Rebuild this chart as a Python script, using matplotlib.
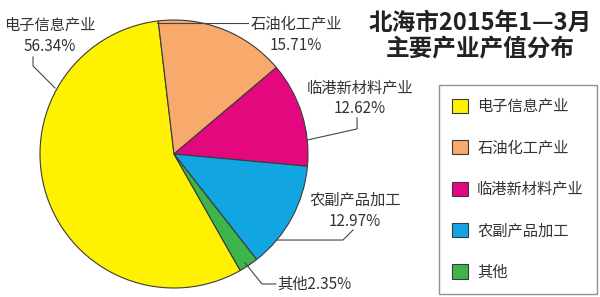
import matplotlib
matplotlib.use("Agg")
import matplotlib.pyplot as plt
import numpy as np

plt.rcParams['font.family'] = ['Noto Sans CJK SC', 'DejaVu Sans']

# data (legend order)
industries = ["电子信息产业", "石油化工产业", "临港新材料产业", "农副产品加工", "其他"]
shares = [56.34, 15.71, 12.62, 12.97, 2.35]
colors = ["#FFF200", "#F8A96C", "#E4087F", "#11A5E2", "#3DB54A"]

title_lines = ["北海市2015年1—3月", "主要产业产值分布"]

fig = plt.figure(figsize=(6.0, 2.97), dpi=100)
fig.patch.set_facecolor("white")

# pie axes: center ~ (174,154) px, radius ~134 px
ax = fig.add_axes([40 / 600, 9 / 297, 268 / 600, 268 / 297])
wedges, _ = ax.pie(shares, colors=colors, startangle=-60.4, counterclock=False,
                   radius=1.0,
                   wedgeprops=dict(edgecolor="#3a3a3a", linewidth=0.8))
ax.set_xlim(-1.0, 1.0)
ax.set_ylim(-1.0, 1.0)
ax.set_aspect("equal")
ax.axis("off")

txt_color = "#333333"
lab_fs = 11

# label layout: (name text pos, pct text pos, leader polyline)
layout = [
    ((-0.925, 0.963), (-0.925, 0.80), [(-1.052, 0.724), (-1.052, 0.657), (-0.888, 0.493)]),
    ((0.910, 0.968), (0.910, 0.811), [(-0.127, 0.978), (0.552, 0.978)]),
    ((1.388, 0.493), (1.388, 0.336), [(1.366, 0.269), (1.366, 0.187), (0.993, 0.104)]),
    ((1.351, -0.343), (1.351, -0.500), [(1.336, -0.567), (1.261, -0.642), (0.769, -0.642)]),
]
for i, (npos, ppos, line) in enumerate(layout):
    ax.text(npos[0], npos[1], industries[i], ha="center", va="center",
            fontsize=lab_fs, color=txt_color, clip_on=False)
    ax.text(ppos[0], ppos[1], f"{shares[i]:.2f}%", ha="center", va="center",
            fontsize=lab_fs, color=txt_color, clip_on=False)
    xs, ys = zip(*line)
    ax.plot(xs, ys, color="#444444", lw=0.8, clip_on=False)

# "other" label inline
ax.text(0.770, -0.970, f"{industries[4]}{shares[4]:.2f}%", ha="left", va="center",
        fontsize=lab_fs, color=txt_color, clip_on=False)
ax.plot([0.530, 0.657, 0.760], [-0.813, -0.970, -0.970], color="#444444", lw=0.8, clip_on=False)

# title
fig.text(480 / 600, 1 - 23 / 297, title_lines[0], ha="center", va="center",
         fontsize=17, fontweight="bold", color="#222222")
fig.text(480 / 600, 1 - 49 / 297, title_lines[1], ha="center", va="center",
         fontsize=17, fontweight="bold", color="#222222")

leg = fig.legend(wedges, industries, loc="upper left",
                 bbox_to_anchor=(439 / 600, 1 - 85 / 297),
                 fontsize=11, frameon=True, fancybox=False,
                 handlelength=1.05, handleheight=1.05, handletextpad=0.6,
                 labelspacing=1.6, borderpad=0.85, borderaxespad=0)
leg.get_frame().set_edgecolor("#777777")
leg.get_frame().set_linewidth(1.0)
for t in leg.get_texts():
    t.set_color(txt_color)

fig.savefig("out.png", dpi=100)
